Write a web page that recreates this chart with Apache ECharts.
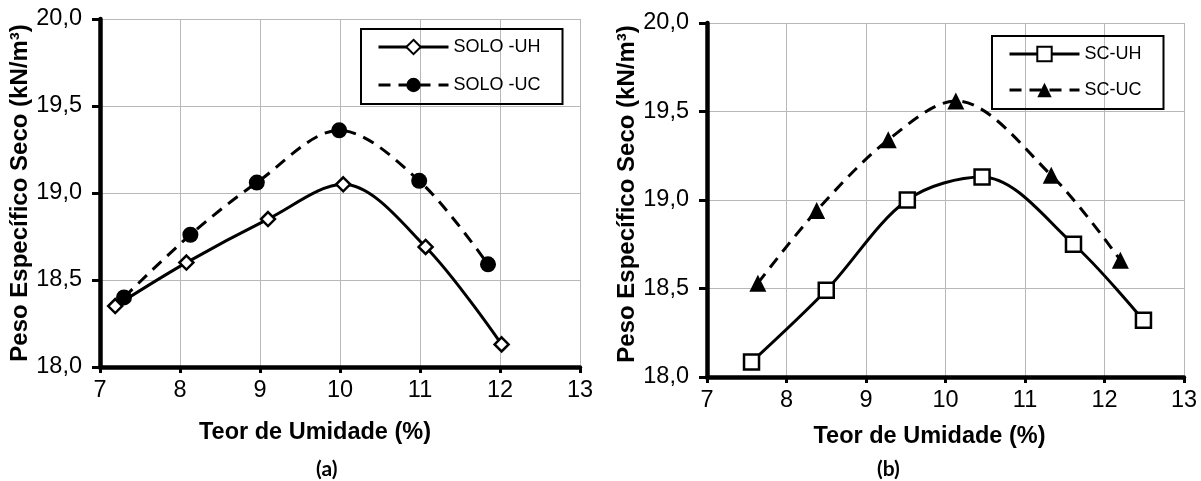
<!DOCTYPE html>
<html>
<head>
<meta charset="utf-8">
<script src="https://cdn.jsdelivr.net/npm/echarts@6/dist/echarts.min.js"></script>
<style>
  html, body { margin: 0; padding: 0; background: #fff; }
  #chart { width: 1201px; height: 481px; }
</style>
</head>
<body>
<div id="chart"></div>
<script>
// (a) solo
let soloUH = [[7.19, 18.35], [8.08, 18.60], [9.10, 18.85], [10.04, 19.05], [11.07, 18.69], [12.02, 18.13]];
let soloUC = [[7.30, 18.40], [8.13, 18.76], [8.96, 19.06], [9.99, 19.36], [10.99, 19.07], [11.85, 18.59]];
// (b) solo-cimento
let scUH = [[7.56, 18.085], [8.50, 18.49], [9.52, 19.00], [10.46, 19.13], [11.61, 18.75], [12.49, 18.32]];
let scUC = [[7.64, 18.53], [8.38, 18.94], [9.28, 19.34], [10.13, 19.56], [11.33, 19.14], [12.20, 18.66]];

let xRange = [7, 13];
let yRange = [18, 20];
let xTitle = "Teor de Umidade (%)";
let yTitle = "Peso Específico Seco (kN/m³)";

const font = "'Liberation Sans', Arial, sans-serif";

function xAxis(gridIndex, gap, shift) {
  return {
    type: "value",
    gridIndex: gridIndex,
    min: xRange[0],
    max: xRange[1],
    interval: 1,
    name: xTitle,
    nameLocation: "middle",
    nameGap: gap,
    nameTextStyle: { fontFamily: font, fontSize: 23.5, fontWeight: "bold", color: "#000", padding: [0, shift, 0, 0] },
    axisLine: { onZero: false, lineStyle: { color: "#000", width: 4.5 } },
    axisTick: { show: true, length: 6, lineStyle: { color: "#000", width: 3 } },
    axisLabel: { fontFamily: font, fontSize: 23.5, color: "#000", margin: 12 },
    splitLine: { show: true, lineStyle: { color: "#b8b8b8", width: 1 } }
  };
}

function yAxis(gridIndex, gap, down) {
  return {
    type: "value",
    gridIndex: gridIndex,
    min: yRange[0],
    max: yRange[1],
    interval: 0.5,
    name: yTitle,
    nameLocation: "middle",
    nameRotate: 90,
    nameGap: gap,
    nameTextStyle: { fontFamily: font, fontSize: 24, fontWeight: "bold", color: "#000", padding: [0, 0, 0, down] },
    axisLine: { onZero: false, lineStyle: { color: "#000", width: 4.5 } },
    axisTick: { show: true, length: 8, lineStyle: { color: "#000", width: 3 } },
    axisLabel: {
      fontFamily: font, fontSize: 23.5, color: "#000", margin: 18,
      formatter: v => v.toFixed(1).replace(".", ",")
    },
    splitLine: { show: true, lineStyle: { color: "#b8b8b8", width: 1 } }
  };
}

function line(name, data, idx, symbol, size, filled, dashed) {
  return {
    name: name,
    type: "line",
    xAxisIndex: idx,
    yAxisIndex: idx,
    data: data,
    smooth: 0.33,
    symbol: symbol,
    symbolSize: size,
    showAllSymbol: true,
    lineStyle: { color: "#000", width: 3, type: dashed ? [12, 8] : "solid" },
    itemStyle: { color: filled ? "#000" : "#fff", borderColor: "#000", borderWidth: filled ? 0 : 2.5 },
    emphasis: { disabled: true },
    z: filled ? 3 : 4
  };
}

function legend(names, left, top, gap) {
  return {
    orient: "vertical",
    left: left,
    top: top,
    data: names,
    selectedMode: false,
    itemWidth: 70,
    itemHeight: 18,
    itemGap: gap,
    padding: [9, 22, 10, 16],
    borderColor: "#000",
    borderWidth: 2,
    lineStyle: { width: 3 },
    textStyle: { fontFamily: font, fontSize: 18, color: "#000" }
  };
}

let option = {
  backgroundColor: "#fff",
  animation: false,
  grid: [
    { left: 100, top: 19, width: 480, height: 348 },
    { left: 707, top: 23, width: 477, height: 354 }
  ],
  xAxis: [xAxis(0, 54, 50), xAxis(1, 48, 32)],
  yAxis: [yAxis(0, 65, 0), yAxis(1, 68, 12)],
  legend: [
    legend(["SOLO -UH", "SOLO -UC"], 361, 29, 20),
    legend(["SC-UH", "SC-UC"], 992, 36, 18)
  ],
  graphic: [
    { type: "text", left: 316, top: 459, style: { text: "(a)", font: "bold 21px Lato, 'Liberation Sans', sans-serif", fill: "#000" } },
    { type: "text", left: 877, top: 459, style: { text: "(b)", font: "bold 21px Lato, 'Liberation Sans', sans-serif", fill: "#000" } }
  ],
  series: [
    line("SOLO -UH", soloUH, 0, "diamond", 14, false, false),
    line("SOLO -UC", soloUC, 0, "circle", 16, true, true),
    line("SC-UH", scUH, 1, "rect", 15, false, false),
    line("SC-UC", scUC, 1, "triangle", 17, true, true)
  ]
};

let myChart = echarts.init(document.getElementById("chart"));
myChart.setOption(option);
</script>
</body>
</html>
